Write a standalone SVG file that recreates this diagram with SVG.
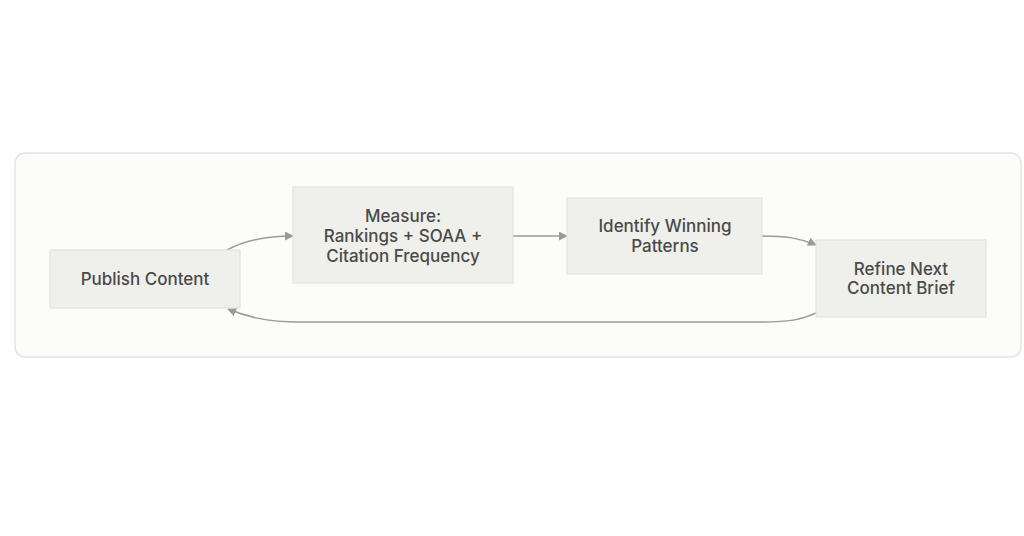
<svg xmlns="http://www.w3.org/2000/svg" width="1024" height="536" viewBox="0 0 1024 536">
<defs>
<style>
.node rect{fill:#efefeb;stroke:#e2e2de;stroke-width:1.2}
.node text{font-family:Inter,"Liberation Sans",sans-serif;font-size:17px;font-weight:500;fill:#4a4a4a;text-anchor:middle}
.conn path{fill:none;stroke:#9a9a9a;stroke-width:1.5;marker-end:url(#arr)}
</style>
<marker id="arr" viewBox="0 0 10 10" refX="9" refY="5" markerWidth="9" markerHeight="9" orient="auto" markerUnits="userSpaceOnUse">
<path d="M0,0 L10,5 L0,10 z" fill="#9a9a9a"/>
</marker>
</defs>
<rect width="1024" height="536" fill="#ffffff"/>
<rect id="container" x="15" y="153" width="1006" height="204" rx="10" fill="#fcfcfb" stroke="#e3e3e3" stroke-width="1.5"/>
<g id="connectors" class="conn">
<path d="M227,250 C245,240 265,236 293,236"/>
<path d="M513,236 L567,236"/>
<path d="M762,236 C785,236 800,238 816,245"/>
<path d="M816,313 C800,320 790,322 760,322 L300,322 C265,322 245,316 228,309"/>
</g>
<g id="publish" class="node">
<rect x="50" y="250" width="190" height="58"/>
<text x="145" y="285">Publish Content</text>
</g>
<g id="measure" class="node">
<rect x="293" y="187" width="220" height="96"/>
<text x="403" y="222">Measure:</text>
<text x="403" y="242">Rankings + SOAA +</text>
<text x="403" y="262">Citation Frequency</text>
</g>
<g id="identify" class="node">
<rect x="567" y="198" width="195" height="76"/>
<text x="665" y="232">Identify Winning</text>
<text x="665" y="252">Patterns</text>
</g>
<g id="refine" class="node">
<rect x="816" y="240" width="170" height="77"/>
<text x="901" y="275">Refine Next</text>
<text x="901" y="294">Content Brief</text>
</g>
</svg>
